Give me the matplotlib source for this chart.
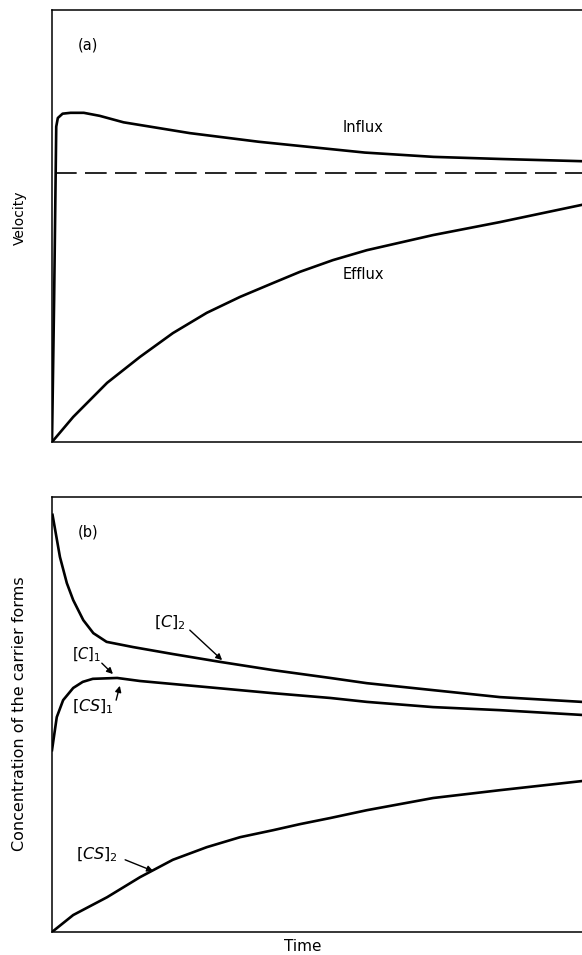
import matplotlib
matplotlib.use("Agg")
import matplotlib.pyplot as plt

plt.rcParams['font.family'] = ['DejaVu Sans']
plt.rcParams['mathtext.fontset'] = 'dejavusans'

# ---- panel (a): velocity ----
influx_t = [0, 0.4, 0.8, 1.1, 2, 3.5, 6, 9, 13.5, 18.5, 26, 39, 47, 59, 72, 85, 100]
influx_v = [0, 33, 73, 75, 76, 76.2, 76.2, 75.5, 74, 73, 71.5, 69.5, 68.5, 67, 66, 65.5, 65]

efflux_t = [0, 4.0, 10.4, 16.6, 22.8, 29.2, 35.5, 41.7, 46.8, 53.0, 59.4, 71.9, 84.5, 100]
efflux_v = [0, 5.8, 13.7, 19.7, 25.2, 29.9, 33.6, 36.8, 39.4, 42.1, 44.4, 47.9, 50.9, 54.9]

steady_v = 62.3

# ---- panel (b): carrier forms ----
c2_t = [0.1, 1.5, 2.8, 4.0, 5.9, 7.8, 10.3, 15.3, 22.8, 31.7, 41.7, 52.5, 59.4, 71.9, 84.5, 100]
c2_y = [95.9, 86.2, 80.2, 76.3, 71.7, 68.7, 66.7, 65.5, 63.9, 62.1, 60.2, 58.4, 57.2, 55.6, 54.0, 52.9]

c1_t = [0, 0.9, 2.1, 4.0, 5.8, 7.7, 12.3, 16.6, 29.2, 41.7, 52.5, 59.4, 71.9, 84.5, 100]
c1_y = [41.8, 49.4, 53.3, 56.1, 57.5, 58.2, 58.4, 57.7, 56.3, 54.9, 53.8, 52.9, 51.7, 51.0, 49.9]

cs2_t = [0, 4.0, 10.4, 16.6, 22.8, 29.2, 35.5, 41.7, 46.8, 52.5, 59.4, 71.9, 84.5, 100]
cs2_y = [0, 3.9, 8.0, 12.6, 16.6, 19.5, 21.8, 23.4, 24.8, 26.2, 28.0, 30.8, 32.6, 34.7]

W, H = 582, 955
fig = plt.figure(figsize=(W / 100, H / 100), dpi=100)

ax1 = fig.add_axes([52 / W, 1 - 442 / H, 1 - 52 / W, 432 / H])
ax2 = fig.add_axes([52 / W, 1 - 932 / H, 1 - 52 / W, 435 / H])

for ax in (ax1, ax2):
    ax.set_xlim(0, 100)
    ax.set_ylim(0, 100)
    ax.set_xticks([])
    ax.set_yticks([])
    ax.spines['right'].set_visible(False)
    for s in ('left', 'bottom', 'top'):
        ax.spines[s].set_linewidth(1.1)

lw = 1.9
ax1.plot(influx_t, influx_v, color='k', lw=lw, solid_joinstyle='round')
ax1.plot(efflux_t, efflux_v, color='k', lw=lw, solid_joinstyle='round')
ax1.plot([0.5, 100], [steady_v, steady_v], color='k', lw=1.2, linestyle=(0, (13, 5)))

ax1.text(6.8, 91.9, '(a)', fontsize=10.5, ha='center', va='center')
ax1.text(58.7, 72.9, 'Influx', fontsize=10.5, ha='center', va='center')
ax1.text(58.7, 38.7, 'Efflux', fontsize=10.5, ha='center', va='center')

ax2.plot(c2_t, c2_y, color='k', lw=lw, solid_joinstyle='round')
ax2.plot(c1_t, c1_y, color='k', lw=lw, solid_joinstyle='round')
ax2.plot(cs2_t, cs2_y, color='k', lw=lw, solid_joinstyle='round')

ax2.text(6.8, 92.0, '(b)', fontsize=10.5, ha='center', va='center')

arrow = dict(arrowstyle='-|>', color='k', lw=1.0, mutation_scale=9, shrinkA=0, shrinkB=0)
ax2.text(22.3, 71.0, r'$[C]_2$', fontsize=11.5, ha='center', va='center')
ax2.annotate('', xy=(32.1, 62.5), xytext=(26.0, 69.4), arrowprops=arrow)
ax2.text(6.6, 63.7, r'$[C]_1$', fontsize=10.5, ha='center', va='center')
ax2.annotate('', xy=(11.5, 59.3), xytext=(9.4, 61.8), arrowprops=arrow)
ax2.text(7.7, 51.7, r'$[CS]_1$', fontsize=11.5, ha='center', va='center')
ax2.annotate('', xy=(12.8, 56.6), xytext=(12.1, 53.3), arrowprops=arrow)
ax2.text(8.5, 17.7, r'$[CS]_2$', fontsize=11.5, ha='center', va='center')
ax2.annotate('', xy=(19.1, 14.0), xytext=(13.8, 16.6), arrowprops=arrow)

fig.text(20 / W, 1 - 218 / H, 'Velocity', rotation=90, fontsize=10, ha='center', va='center')
fig.text(20 / W, 1 - 714 / H, 'Concentration of the carrier forms', rotation=90,
         fontsize=11.5, ha='center', va='center')
fig.text(303 / W, 1 - 946 / H, 'Time', fontsize=11, ha='center', va='center')

fig.savefig('out.png', dpi=100)
